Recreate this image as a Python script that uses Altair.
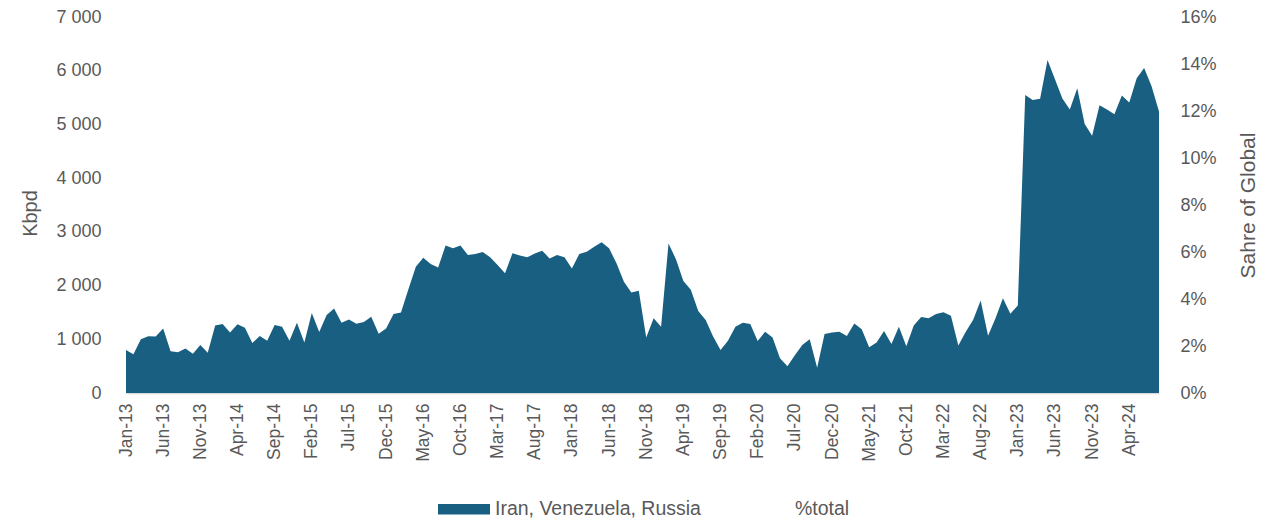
import altair as alt
import pandas as pd

# Monthly volumes, Kbpd (Jan-13 .. Aug-24)
kbpd_values = [
    800, 720, 1000, 1055, 1050, 1200, 775, 757, 830, 730, 895, 750,          # 2013
    1255, 1285, 1125, 1280, 1215, 930, 1060, 975, 1265, 1235, 975, 1310,     # 2014
    940, 1490, 1135, 1450, 1575, 1310, 1370, 1290, 1320, 1420, 1105, 1200,   # 2015
    1470, 1500, 1930, 2350, 2520, 2400, 2335, 2745, 2695, 2745, 2570, 2590,  # 2016
    2625, 2525, 2385, 2230, 2600, 2560, 2525, 2595, 2650, 2505, 2570, 2525,  # 2017
    2320, 2590, 2630, 2725, 2805, 2695, 2415, 2070, 1870, 1905, 1035, 1390,  # 2018
    1235, 2785, 2490, 2085, 1920, 1525, 1360, 1050, 800, 975, 1235, 1310,    # 2019
    1285, 970, 1140, 1035, 645, 500, 705, 895, 1000, 470, 1100, 1125,        # 2020
    1140, 1060, 1295, 1185, 850, 940, 1155, 910, 1235, 870, 1255, 1415,      # 2021
    1390, 1470, 1505, 1440, 885, 1140, 1365, 1720, 1065, 1390, 1765, 1475,   # 2022
    1630, 5550, 5455, 5480, 6200, 5840, 5485, 5280, 5675, 5010, 4790, 5355,  # 2023
    5280, 5190, 5540, 5410, 5860, 6050, 5710, 5240,                          # 2024
]
month_labels = pd.date_range("2013-01-01", periods=len(kbpd_values), freq="MS").strftime("%b-%y").tolist()
x_tick_labels = month_labels[::5]
series_names = ["Iran, Venezuela, Russia", "%total"]
series_colors = ["#185f81", "#ffffff"]
left_ticks = [0, 1000, 2000, 3000, 4000, 5000, 6000, 7000]
right_ticks = [0, 0.02, 0.04, 0.06, 0.08, 0.10, 0.12, 0.14, 0.16]

df = pd.DataFrame({"month": month_labels, "kbpd": kbpd_values, "series": series_names[0]})
pct_df = pd.DataFrame({"pct": [0.0]})

FONT = "Liberation Sans"
GREY = "#595959"

x_enc = alt.X(
    "month:O", sort=None,
    scale=alt.Scale(type="point", padding=0),
    axis=alt.Axis(values=x_tick_labels, labelAngle=270, title=None, ticks=False,
                  domainColor="#d9d9d9", domainWidth=1.5, labelPadding=10,
                  labelFontSize=17.5, labelColor=GREY, labelFont=FONT, grid=False),
)

area = alt.Chart(df).mark_area(opacity=1).encode(
    x=x_enc,
    y=alt.Y("kbpd:Q", scale=alt.Scale(domain=[0, 7000], nice=False),
            axis=alt.Axis(values=left_ticks, orient="left", grid=False, domain=False, ticks=False,
                          labelExpr="replace(format(datum.value, ',d'), ',', ' ')",
                          labelPadding=25, labelFontSize=18, labelColor=GREY, labelFont=FONT,
                          title="Kbpd", titleFontSize=20, titleColor=GREY, titleFont=FONT,
                          titleFontWeight="normal", titleAngle=270, titleAlign="center",
                          titleBaseline="middle", titleX=-96, titleY=196)),
    color=alt.Color("series:N", scale=alt.Scale(domain=series_names, range=series_colors),
                    legend=alt.Legend(orient="none", legendX=312, legendY=466, direction="horizontal",
                                      title=None, symbolType="M-1,-0.2H1V0.2H-1Z", symbolSize=2704,
                                      symbolStrokeWidth=0, symbolOpacity=1, labelFontSize=19.5,
                                      labelColor=GREY, labelFont=FONT, labelOffset=5,
                                      labelLimit=0, columnPadding=37)),
)

right = alt.Chart(pct_df).mark_point(opacity=0).encode(
    y=alt.Y("pct:Q", scale=alt.Scale(domain=[0, 0.16], nice=False),
            axis=alt.Axis(values=right_ticks, orient="right", format=".0%", grid=False,
                          domain=False, ticks=False, labelPadding=21, labelFontSize=18,
                          labelColor=GREY, labelFont=FONT,
                          title="Sahre of Global", titleFontSize=21, titleColor=GREY,
                          titleFont=FONT, titleFontWeight="normal", titleAngle=270,
                          titleAlign="center", titleBaseline="middle", titleX=89, titleY=188)),
)

chart = alt.layer(area, right).resolve_scale(y="independent").properties(
    width=1033, height=376,
    padding={"left": 118, "top": 9, "right": 100, "bottom": 128},
    autosize=alt.AutoSizeParams(type="none"),
).configure_view(stroke=None)

chart.save("out.html", embed_options={"renderer": "svg", "actions": False})
